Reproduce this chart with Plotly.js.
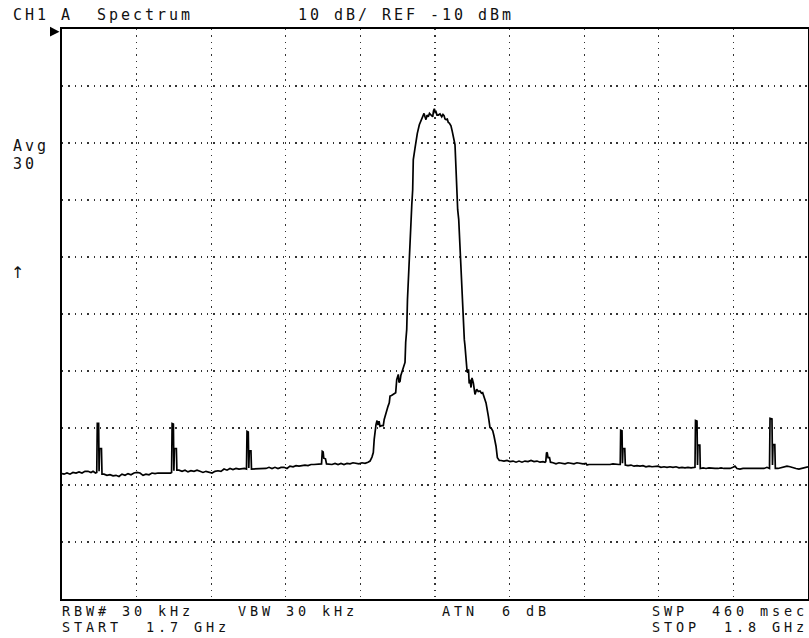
<!DOCTYPE html>
<html>
<head>
<meta charset="utf-8">
<script src="https://cdn.plot.ly/plotly-3.0.1.min.js"></script>
<style>
  html, body { margin: 0; padding: 0; background: #fff; }
  #chart { width: 809px; height: 638px; }
</style>
</head>
<body>
<div id="chart"></div>
<script>
// Sweep settings
const startMHz = 1700;
const stopMHz = 1800;
const refLevelDbm = -10;
const dbPerDiv = 10;
const divisions = 10;

// Measured trace (averaged, 30 sweeps): frequency in MHz, level in dBm
const freqMHz = [
  // floor, low end
  1700.00, 1700.27, 1700.67, 1701.07, 1701.47, 1701.88, 1702.28, 1702.68, 1703.08, 1703.49, 1703.89, 1704.16, 1704.49,
  // spur near 1704.8 MHz
  1704.66, 1704.73, 1704.91, 1704.97, 1705.04, 1705.29, 1705.36,
  1705.63, 1706.03, 1706.43, 1706.84, 1707.24, 1707.64, 1708.04, 1708.45, 1708.85, 1709.25, 1709.65, 1710.05,
  1710.46, 1710.86, 1711.26, 1711.66, 1712.06, 1712.47, 1712.87, 1713.27, 1713.67, 1714.08, 1714.55,
  // spur near 1714.8 MHz
  1714.69, 1714.76, 1714.93, 1715.00, 1715.07, 1715.33, 1715.40,
  1715.68, 1716.09, 1716.49, 1716.89, 1717.29, 1717.69, 1718.10, 1718.50, 1718.90, 1719.30, 1719.71, 1720.11,
  1720.51, 1720.91, 1721.31, 1721.72, 1722.12, 1722.52, 1722.92, 1723.33, 1723.73, 1724.13, 1724.46,
  // spur near 1724.9 MHz
  1724.73, 1724.80, 1724.97, 1725.04, 1725.11, 1725.33, 1725.40,
  1725.74, 1726.14, 1726.54, 1726.94, 1727.35, 1727.75, 1728.15, 1728.55, 1728.95, 1729.36, 1729.76, 1730.16,
  1730.56, 1730.97, 1731.37, 1731.77, 1732.17, 1732.57, 1732.98, 1733.38, 1733.78, 1734.18, 1734.58,
  // small spur near 1735 MHz
  1734.79, 1734.89, 1735.01, 1735.09, 1735.32, 1735.46,
  1735.79, 1736.19, 1736.60, 1737.00, 1737.40, 1737.80, 1738.20, 1738.61, 1739.01, 1739.41, 1739.81, 1740.21,
  1740.62, 1741.02,
  // carrier, lower skirt
  1741.29, 1741.55, 1741.73, 1741.85, 1741.96, 1742.09, 1742.23, 1742.36, 1742.50, 1742.63, 1742.86, 1743.07,
  1743.19, 1743.30, 1743.53, 1743.70, 1743.87, 1743.97, 1744.17, 1744.41, 1744.73, 1744.87, 1744.97, 1745.08,
  1745.17, 1745.31, 1745.42, 1745.54, 1745.75, 1745.98, 1746.07, 1746.21, 1746.31, 1746.45, 1746.58, 1746.74,
  1746.89, 1747.01, 1747.09, 1747.32, 1747.45, 1747.63, 1747.90, 1748.12, 1748.35,
  // carrier, top
  1748.53, 1748.66, 1748.79, 1748.93, 1749.10, 1749.26, 1749.42, 1749.69, 1749.80, 1749.91, 1750.03, 1750.13,
  1750.27, 1750.44, 1750.67, 1750.90, 1751.07, 1751.21, 1751.34, 1751.47, 1751.65, 1751.78, 1751.92,
  // carrier, upper skirt
  1752.14, 1752.32, 1752.45, 1752.68, 1752.82, 1752.91, 1753.04, 1753.18, 1753.32, 1753.49, 1753.62, 1753.79,
  1753.93, 1754.02, 1754.16, 1754.29, 1754.38, 1754.49, 1754.58, 1754.69, 1754.83, 1754.96, 1755.14, 1755.27,
  1755.36, 1755.59, 1755.80, 1756.03, 1756.23, 1756.39, 1756.57, 1756.84, 1757.15, 1757.37, 1757.57, 1757.74,
  1757.91, 1758.18, 1758.36, 1758.62,
  // floor above carrier
  1758.85, 1759.25, 1759.65, 1760.05, 1760.46, 1760.86, 1761.26, 1761.66, 1762.06, 1762.47, 1762.87, 1763.27,
  1763.67, 1764.08, 1764.48, 1764.75,
  // small spur near 1765 MHz
  1764.85, 1764.95, 1765.05, 1765.15, 1765.35, 1765.48,
  1765.82, 1766.22, 1766.62, 1767.02, 1767.43, 1767.83, 1768.23, 1768.63, 1769.03, 1769.44, 1769.84, 1770.24,
  1770.38, 1770.64, 1771.05, 1771.45, 1771.85, 1772.25, 1772.65, 1773.06, 1773.46, 1773.86, 1774.26, 1774.66,
  // spur near 1775 MHz
  1774.83, 1774.89, 1775.07, 1775.13, 1775.20, 1775.44, 1775.51,
  1775.87, 1776.27, 1776.68, 1777.08, 1777.48, 1777.88, 1778.28, 1778.69, 1779.09, 1779.49, 1779.89, 1780.29,
  1780.70, 1781.10, 1781.50, 1781.90, 1782.31, 1782.71, 1783.11, 1783.51, 1783.91, 1784.32, 1784.72,
  // spur near 1785 MHz
  1784.85, 1784.92, 1785.12, 1785.19, 1785.25, 1785.50, 1785.56,
  1785.93, 1786.33, 1786.73, 1787.13, 1787.53, 1787.94, 1788.34, 1788.74, 1789.14, 1789.55, 1789.95, 1790.21,
  1790.48, 1790.88, 1791.29, 1791.69, 1792.09, 1792.49, 1792.90, 1793.30, 1793.70, 1794.10, 1794.50, 1794.84,
  // spur near 1795 MHz
  1794.91, 1795.17, 1795.24, 1795.31, 1795.55, 1795.62,
  1795.98, 1796.38, 1796.78, 1797.18, 1797.59, 1797.99, 1798.39, 1798.79, 1799.20, 1799.60, 1800.00
];

const levelDbm = [
  -88.0, -88.1, -87.9, -88.1, -87.8, -87.9, -87.7, -87.9, -87.6, -87.6, -87.8, -87.6, -87.9,
  -87.8, -79.2, -79.2, -87.6, -83.6, -83.6, -88.1,
  -88.1, -88.3, -88.2, -88.4, -88.3, -88.5, -88.1, -88.3, -88.0, -88.2, -87.9, -87.8,
  -87.9, -88.3, -88.1, -88.2, -87.9, -88.0, -87.9, -87.9, -88.0, -87.9, -87.9,
  -87.8, -79.2, -79.3, -87.5, -83.6, -83.6, -87.4,
  -87.4, -87.6, -87.4, -87.7, -87.5, -87.6, -87.4, -87.6, -87.8, -87.6, -87.8, -87.9,
  -87.6, -87.5, -87.6, -87.2, -87.4, -87.1, -87.3, -87.1, -87.2, -87.1, -87.1,
  -87.2, -80.6, -80.7, -87.0, -84.0, -84.0, -87.2,
  -87.2, -87.1, -87.2, -87.1, -87.1, -86.9, -87.1, -86.9, -87.1, -86.9, -86.9, -87.1,
  -86.7, -86.8, -86.6, -86.7, -86.6, -86.5, -86.6, -86.4, -86.4, -86.4, -86.4,
  -86.3, -84.1, -84.2, -85.3, -85.4, -86.3,
  -86.4, -86.4, -86.2, -86.4, -86.2, -86.4, -86.2, -86.3, -86.1, -86.2, -86.3, -86.1,
  -86.2, -86.0,
  -85.8, -85.1, -84.3, -82.0, -80.2, -79.4, -78.7, -79.5, -78.8, -79.7, -79.6, -79.6,
  -78.5, -77.9, -77.0, -76.2, -75.6, -74.4, -74.3, -74.1, -73.8, -71.5, -70.9, -70.6,
  -72.0, -71.8, -70.8, -70.3, -69.1, -68.5, -65.0, -62.7, -57.5, -53.1, -48.7, -43.4,
  -40.8, -38.2, -32.9, -30.9, -29.4, -28.3, -26.8, -26.2, -25.4,
  -24.8, -25.4, -25.9, -25.1, -25.4, -24.8, -25.1, -25.4, -24.4, -24.0, -24.6, -24.5,
  -25.1, -25.1, -24.9, -25.4, -25.0, -25.2, -25.8, -25.9, -25.8, -26.4, -26.5,
  -27.0, -28.0, -28.9, -30.3, -34.7, -38.2, -41.7, -43.4, -47.8, -52.2, -57.5, -61.8,
  -64.5, -65.6, -69.1, -69.9, -70.3, -69.7, -72.2, -71.5, -72.9, -71.2, -72.1, -73.6,
  -74.1, -73.2, -73.6, -73.5, -73.9, -73.8, -74.4, -75.6, -77.9, -79.9, -80.1, -80.5,
  -81.4, -83.2, -85.2, -85.7,
  -85.7, -85.8, -85.7, -85.9, -85.8, -86.0, -85.8, -86.0, -85.8, -85.9, -85.7, -85.9,
  -85.8, -86.0, -85.9, -86.0,
  -85.9, -84.3, -84.4, -85.2, -85.2, -86.0,
  -86.1, -86.3, -86.1, -86.2, -86.3, -86.1, -86.2, -86.3, -86.1, -86.2, -86.3, -86.2,
  -86.5, -86.4, -86.4, -86.5, -86.4, -86.4, -86.5, -86.4, -86.4, -86.3, -86.4, -86.4,
  -86.4, -80.4, -80.5, -86.2, -83.6, -83.6, -86.5,
  -86.6, -86.5, -86.7, -86.6, -86.7, -86.6, -86.8, -86.7, -86.8, -86.8, -86.7, -86.9,
  -86.8, -86.9, -86.8, -86.9, -86.8, -87.0, -86.9, -87.0, -86.9, -87.0, -86.9,
  -86.9, -78.7, -78.8, -86.5, -83.0, -83.0, -87.1,
  -87.0, -87.1, -87.0, -87.1, -87.1, -87.1, -87.0, -87.1, -87.1, -87.1, -86.9, -86.7,
  -87.1, -87.2, -87.1, -87.1, -87.0, -87.1, -87.0, -87.1, -87.0, -87.1, -86.9, -87.1,
  -78.3, -78.4, -86.5, -82.9, -82.9, -87.1,
  -87.1, -87.0, -86.9, -86.7, -86.8, -87.0, -87.1, -87.2, -87.1, -86.9, -86.8
];

// Screen annotations
const headerLeft = 'CH1 A  Spectrum';
const headerRight = '10 dB/ REF -10 dBm';
const avgLabel = 'Avg';
const avgCount = '30';
const refArrow = '↑';
const rbwLabel = 'RBW# 30 kHz';
const vbwLabel = 'VBW 30 kHz';
const atnLabel = 'ATN  6 dB';
const swpLabel = 'SWP  460 msec';
const startLabel = 'START  1.7 GHz';
const stopLabel = 'STOP  1.8 GHz';

// character pitch of the instrument screen font, px
const charPitch = 12;

const bottomDbm = refLevelDbm - dbPerDiv * divisions;

const trace = {
  x: freqMHz,
  y: levelDbm,
  type: 'scatter',
  mode: 'lines',
  line: { color: '#000', width: 1.7 },
  hoverinfo: 'skip'
};

function note(text, x, y, size, family) {
  const font = { size: size || 15 };
  if (family) font.family = family;
  return {
    text: text, xref: 'paper', yref: 'paper', x: x, y: y,
    xanchor: 'left', yanchor: 'middle', align: 'left',
    showarrow: false, borderpad: 0, borderwidth: 0,
    font: font
  };
}

const gridStyle = {
  showgrid: true,
  gridcolor: '#333',
  gridwidth: 1.4,
  griddash: '1.4px,4.9px',
  zeroline: false,
  showticklabels: false,
  ticks: '',
  showline: true,
  linecolor: '#000',
  linewidth: 2,
  mirror: true,
  fixedrange: true
};

const layout = {
  width: 809,
  height: 638,
  margin: { l: 62, r: 1, t: 29, b: 39, pad: 0 },
  paper_bgcolor: '#fff',
  plot_bgcolor: '#fff',
  showlegend: false,
  font: { family: 'DejaVu Sans Mono, Liberation Mono, monospace', size: 15, color: '#111' },
  xaxis: Object.assign({}, gridStyle, {
    range: [startMHz, stopMHz],
    dtick: (stopMHz - startMHz) / divisions,
    tick0: startMHz
  }),
  yaxis: Object.assign({}, gridStyle, {
    range: [bottomDbm, refLevelDbm],
    dtick: dbPerDiv,
    tick0: bottomDbm
  }),
  shapes: [
    {
      // reference-level marker at the top left corner
      type: 'path',
      xref: 'paper', yref: 'paper',
      xsizemode: 'pixel', ysizemode: 'pixel',
      xanchor: 0, yanchor: 1,
      path: 'M-12,2.2 L-2.5,-2.8 L-12,-7.6 Z',
      fillcolor: '#000',
      line: { width: 0 }
    }
  ],
  annotations: [
    note(headerLeft, -0.0653, 1.024),
    note(headerRight, 0.3164, 1.024),
    note(avgLabel, -0.0653, 0.7951),
    note(avgCount, -0.0653, 0.7628),
    note(refArrow, -0.0680, 0.5730, 16, 'DejaVu Sans, sans-serif'),
    note(rbwLabel, -0.0004, -0.0215, 13.5),
    note(vbwLabel, 0.2359, -0.0215, 13.5),
    note(atnLabel, 0.5090, -0.0215, 13.5),
    note(swpLabel, 0.7905, -0.0215, 13.5),
    note(startLabel, -0.0004, -0.0495, 13.5),
    note(stopLabel, 0.7905, -0.0495, 13.5)
  ]
};

Plotly.newPlot('chart', [trace], layout, { staticPlot: true, displayModeBar: false }).then(function (gd) {
  // spread glyphs to the fixed character pitch of the screen font
  gd.querySelectorAll('.annotation-text').forEach(function (t) {
    if (t.textContent.length < 2) return;
    const fs = parseFloat(t.style.fontSize) || 15;
    t.style.letterSpacing = Math.max(0, charPitch - 0.602 * fs).toFixed(2) + 'px';
  });
});
</script>
</body>
</html>
